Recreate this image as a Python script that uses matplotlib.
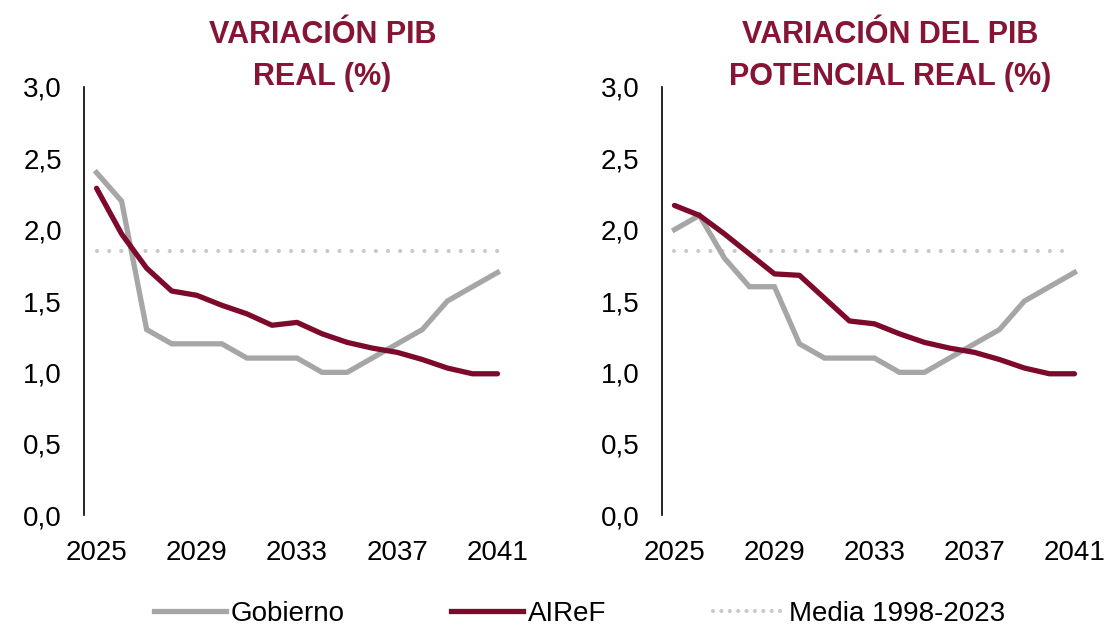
import numpy as np
import matplotlib.pyplot as plt
from matplotlib.lines import Line2D

years = list(range(2025, 2042))

# VARIACION PIB REAL
gob_real = [2.4, 2.2, 1.3, 1.2, 1.2, 1.2, 1.1, 1.1, 1.1, 1.0, 1.0, 1.1, 1.2, 1.3, 1.5, 1.6, 1.7]
airef_real = [2.29, 1.97, 1.73, 1.57, 1.54, 1.47, 1.41, 1.33, 1.35, 1.27, 1.21, 1.17, 1.14, 1.09, 1.03, 0.99, 0.99]

# VARIACION DEL PIB POTENCIAL REAL
gob_pot = [2.0, 2.1, 1.8, 1.6, 1.6, 1.2, 1.1, 1.1, 1.1, 1.0, 1.0, 1.1, 1.2, 1.3, 1.5, 1.6, 1.7]
airef_pot = [2.17, 2.10, 1.97, 1.83, 1.69, 1.68, 1.52, 1.36, 1.34, 1.27, 1.21, 1.17, 1.14, 1.09, 1.03, 0.99, 0.99]

media = 1.85

titles = ["VARIACIÓN PIB\nREAL (%)", "VARIACIÓN DEL PIB\nPOTENCIAL REAL (%)"]
yticks = [0.0, 0.5, 1.0, 1.5, 2.0, 2.5, 3.0]
ytick_labels = ["0,0", "0,5", "1,0", "1,5", "2,0", "2,5", "3,0"]
xticks = [2025, 2029, 2033, 2037, 2041]

GRAY = "#a6a6a6"
RED = "#7d0a2b"
DOT = "#c9c9c9"
TITLE = "#861535"

tick_font = ["Liberation Sans", "DejaVu Sans"]
title_font = ["Liberation Sans", "DejaVu Sans"]

fig = plt.figure(figsize=(11.04, 6.29), dpi=100)
ax1 = fig.add_axes([0.0761, 0.1812, 0.3859, 0.6805])
ax2 = fig.add_axes([0.5996, 0.1812, 0.3850, 0.6805])

for ax, gob, airef in [(ax1, gob_real, airef_real), (ax2, gob_pot, airef_pot)]:
    ax.plot(years, gob, color=GRAY, lw=3.8, solid_joinstyle="miter", zorder=2)
    ax.plot(years, airef, color=RED, lw=3.8, solid_capstyle="round", zorder=3)
    ax.plot([years[0], years[-1]], [media, media], color=DOT, lw=3,
            linestyle=(0, (0.01, 2.9)), dash_capstyle="round", zorder=1)
    ax.set_xlim(2024.5, 2041.5)
    ax.set_ylim(0, 3.0)
    ax.set_yticks(yticks)
    ax.set_yticklabels(ytick_labels)
    ax.set_xticks(xticks)
    ax.set_xticklabels([str(x) for x in xticks])
    for s in ["top", "right", "bottom"]:
        ax.spines[s].set_visible(False)
    ax.spines["left"].set_linewidth(1.2)
    ax.tick_params(axis="y", length=0, pad=16)
    ax.tick_params(axis="x", length=0, pad=18)
    for lab in ax.get_xticklabels() + ax.get_yticklabels():
        lab.set_family(tick_font)
        lab.set_fontsize(20)

fig.text(0.292, 0.968, titles[0], ha="center", va="top", color=TITLE,
         fontsize=22, fontweight="bold", family=title_font, linespacing=1.5)
fig.text(0.806, 0.968, titles[1], ha="center", va="top", color=TITLE,
         fontsize=22, fontweight="bold", family=title_font, linespacing=1.5)

handles = [Line2D([], [], color=GRAY, lw=3.8),
           Line2D([], [], color=RED, lw=3.8),
           Line2D([], [], color=DOT, lw=3, linestyle=(0, (0.01, 2.0)), dash_capstyle="round")]
fig.legend(handles, ["Gobierno", "AIReF", "Media 1998-2023"], loc="center",
           bbox_to_anchor=(0.525, 0.024), ncol=3, frameon=False, handlelength=2.6,
           handletextpad=0.15, columnspacing=3.85, borderpad=0.1,
           prop={"family": tick_font, "size": 20})

fig.savefig("out.png", dpi=100)
